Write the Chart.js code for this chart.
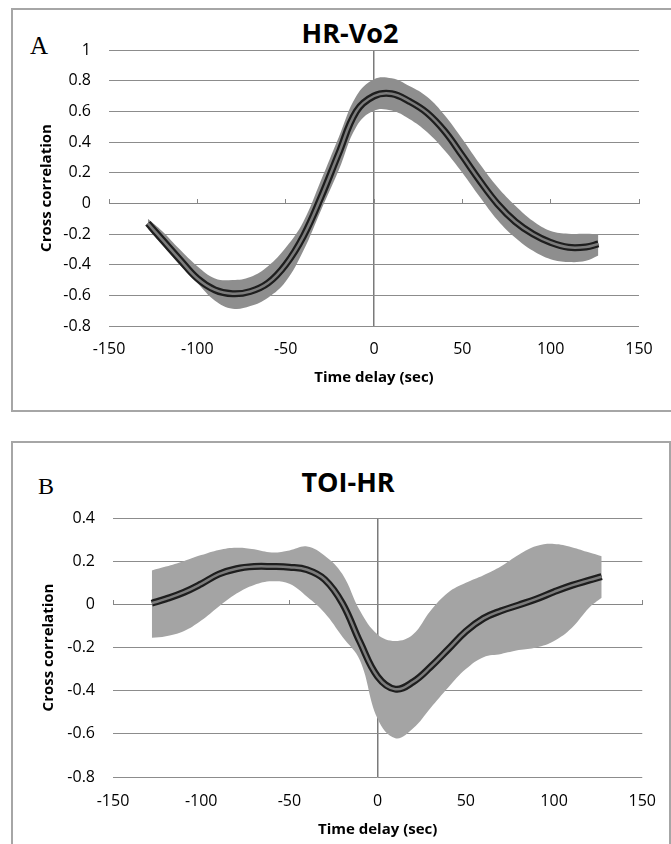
<!DOCTYPE html>
<html>
<head>
<meta charset="utf-8">
<script src="https://cdn.jsdelivr.net/npm/chart.js@4.4.0/dist/chart.umd.min.js"></script>
<style>
  body { margin: 0; background: #fff; width: 671px; height: 844px; overflow: hidden; position: relative; }
  .box { position: absolute; border: 2px solid #a6a6a6; box-sizing: border-box; }
  .letter { position: absolute; font-family: "Liberation Serif", "Times New Roman", serif; color: #000; line-height: 1; }
  .ttl { position: absolute; width: 240px; text-align: center; font-family: "Open Sans", sans-serif; font-weight: bold; font-size: 27px; line-height: 27px; color: #000; }
  canvas { position: absolute; left: 0; }
</style>
</head>
<body>
<div class="box" style="left:11px; top:8px; width:700px; height:404px;"></div>
<div class="box" style="left:11px; top:441px; width:660px; height:430px;"></div>

<div class="letter" style="left:30px; top:33px; font-size:25px;">A</div>
<div class="letter" style="left:38px; top:474px; font-size:24px;">B</div>
<div class="ttl" style="left:230px; top:19px;">HR-Vo2</div>
<div class="ttl" style="left:228px; top:468px;">TOI-HR</div>

<canvas id="grafA" width="671" height="420" style="top:0px"></canvas>
<canvas id="grafB" width="671" height="414" style="top:430px"></canvas>

<script>
// tempo (s)
const timeA = [-128, -120, -110, -100, -90, -80, -70, -60, -50, -40, -30, -20, -10, 0, 10, 20, 30, 40, 50, 60, 70, 80, 90, 100, 110, 120, 127];
const timeB = [-128, -120, -110, -100, -90, -80, -70, -60, -50, -40, -30, -20, -10, 0, 10, 20, 30, 40, 50, 60, 70, 80, 90, 100, 110, 120, 127];

// A: HR-Vo2
const meanA  = [-0.13, -0.235, -0.365, -0.49, -0.565, -0.59, -0.575, -0.52, -0.40, -0.215, 0.04, 0.325, 0.60, 0.70, 0.715, 0.665, 0.59, 0.47, 0.31, 0.145, -0.005, -0.12, -0.20, -0.255, -0.287, -0.285, -0.265];
const upperA = [-0.10, -0.18, -0.30, -0.41, -0.49, -0.50, -0.48, -0.41, -0.29, -0.12, 0.15, 0.43, 0.70, 0.81, 0.815, 0.765, 0.695, 0.575, 0.42, 0.255, 0.105, -0.015, -0.115, -0.18, -0.198, -0.198, -0.20];
const lowerA = [-0.165, -0.27, -0.40, -0.52, -0.635, -0.687, -0.67, -0.615, -0.51, -0.31, -0.045, 0.215, 0.50, 0.605, 0.605, 0.55, 0.465, 0.345, 0.20, 0.04, -0.11, -0.225, -0.31, -0.365, -0.383, -0.375, -0.34];

// B: TOI-HR
const meanB  = [0.005, 0.025, 0.055, 0.095, 0.14, 0.165, 0.175, 0.175, 0.172, 0.16, 0.115, 0.005, -0.175, -0.335, -0.393, -0.36, -0.29, -0.208, -0.125, -0.065, -0.03, -0.003, 0.025, 0.058, 0.088, 0.112, 0.128];
const upperB = [0.157, 0.175, 0.20, 0.228, 0.252, 0.262, 0.255, 0.24, 0.25, 0.268, 0.225, 0.14, -0.03, -0.14, -0.17, -0.14, -0.03, 0.055, 0.10, 0.135, 0.177, 0.23, 0.27, 0.28, 0.265, 0.24, 0.223];
const lowerB = [-0.155, -0.148, -0.125, -0.075, -0.01, 0.05, 0.09, 0.107, 0.095, 0.035, -0.04, -0.15, -0.26, -0.53, -0.62, -0.575, -0.48, -0.385, -0.30, -0.245, -0.23, -0.212, -0.20, -0.17, -0.11, -0.015, 0.03];

const xTicks  = [-150, -100, -50, 0, 50, 100, 150];
const yTicksA = [-0.8, -0.6, -0.4, -0.2, 0, 0.2, 0.4, 0.6, 0.8, 1];
const yTicksB = [-0.8, -0.6, -0.4, -0.2, 0, 0.2, 0.4];

Chart.defaults.font.family = "'Open Sans', sans-serif";
Chart.defaults.color = '#000';

function pts(t, v) {
  return t.map((x, i) => ({x: x, y: v[i]}));
}

function fixTicks(lista) {
  return s => { s.ticks = lista.map(v => ({value: v})); };
}

function painel(id, time, mean, upper, lower, yTicks, corBanda, lay) {
  return new Chart(document.getElementById(id), {
    type: 'line',
    data: {
      datasets: [
        {data: pts(time, mean), borderColor: '#7c7c7c', borderWidth: 2.5, order: 0},
        {data: pts(time, mean), borderColor: '#1e1e1e', borderWidth: 7, order: 1},
        {data: pts(time, upper), borderColor: 'rgba(0,0,0,0)', borderWidth: 1, backgroundColor: corBanda, fill: '+1', order: 2},
        {data: pts(time, lower), borderColor: 'rgba(0,0,0,0)', borderWidth: 1, fill: false, order: 3}
      ]
    },
    options: {
      responsive: false,
      animation: false,
      layout: {padding: lay.pad},
      plugins: {legend: {display: false}, tooltip: {enabled: false}},
      elements: {point: {radius: 0, hoverRadius: 0}, line: {tension: 0.4}},
      scales: {
        x: {
          type: 'linear', min: -150, max: 150,
          afterBuildTicks: fixTicks(xTicks),
          afterFit: s => { s.height = lay.xh; },
          grid: {
            drawTicks: false,
            color: c => (c.tick && c.tick.value === 0) ? '#7a7a7a' : 'rgba(0,0,0,0)',
            lineWidth: c => (c.tick && c.tick.value === 0) ? 1.5 : 1
          },
          border: {display: false},
          ticks: {padding: lay.xpad, font: {size: 16}, callback: v => String(v)},
          title: {display: true, text: 'Time delay (sec)', font: {size: 15, weight: 'bold'}, padding: 0}
        },
        x0: {
          axis: 'x', type: 'linear', position: {y: 0}, min: -150, max: 150,
          afterBuildTicks: fixTicks(xTicks),
          ticks: {display: false},
          grid: {drawOnChartArea: false, drawTicks: true, tickLength: -5, color: '#868686'},
          border: {display: true, color: '#868686', width: 1}
        },
        y: {
          type: 'linear', min: yTicks[0], max: yTicks[yTicks.length - 1],
          afterBuildTicks: fixTicks(yTicks),
          afterFit: s => { s.width = lay.yw; },
          grid: {drawTicks: false, color: '#8c8c8c'},
          border: {display: false},
          ticks: {padding: 18, font: {size: 16}, callback: v => String(v)},
          title: {display: true, text: 'Cross correlation', font: {size: 15, weight: 'bold'}, padding: {top: lay.ytp, bottom: 0}}
        }
      }
    }
  });
}

let grafA = painel('grafA', timeA, meanA, upperA, lowerA, yTicksA, '#8e8e8e',
  {pad: {left: 20, right: 32, top: 50, bottom: 33}, xh: 61, yw: 89, xpad: 14, ytp: 18});

let grafB = painel('grafB', timeB, meanB, upperB, lowerB, yTicksB, '#a4a4a4',
  {pad: {left: 20, right: 26, top: 88, bottom: 5}, xh: 62, yw: 93, xpad: 15, ytp: 20});
</script>
</body>
</html>
